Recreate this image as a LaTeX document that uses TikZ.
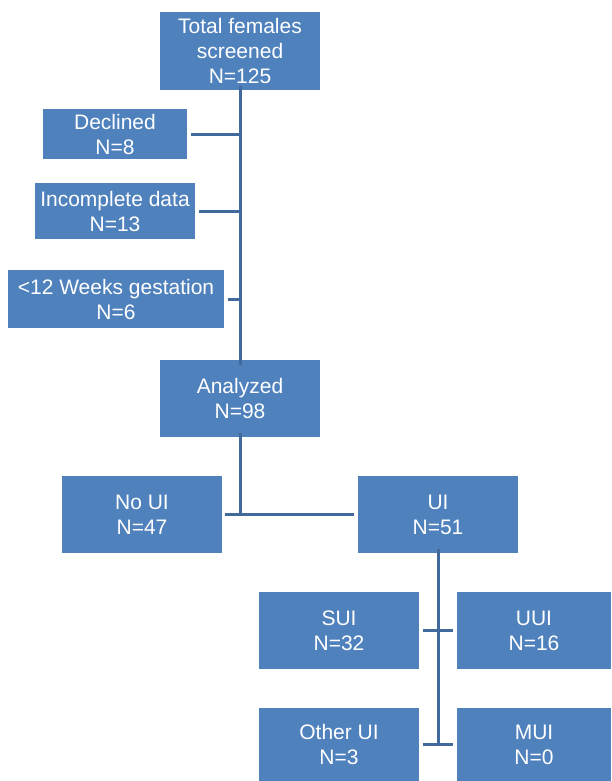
\documentclass[tikz,border=0pt]{standalone}
\usepackage{fontspec}
\setmainfont{Liberation Sans}
\definecolor{boxblue}{HTML}{4F81BD}
\definecolor{lineblue}{HTML}{41699C}
\begin{document}
\begin{tikzpicture}[x=1pt,y=-1pt,
  box/.style={rectangle, fill=boxblue, draw=none, text=white, align=center,
    inner sep=0pt, font=\fontsize{21}{25}\selectfont},
  conn/.style={draw=lineblue, line width=3pt}]
\useasboundingbox (0,0) rectangle (611,781);
\node[box, minimum width=160pt, minimum height=78pt] (total) at (240,51) {Total females\\screened\\N=125};
\node[box, minimum width=144pt, minimum height=50pt] (declined) at (115,134) {Declined\\N=8};
\node[box, minimum width=160pt, minimum height=56pt] (incomplete) at (115,211) {Incomplete data\\N=13};
\node[box, minimum width=216pt, minimum height=58pt] (gest) at (116,299) {<12 Weeks gestation\\N=6};
\node[box, minimum width=160pt, minimum height=77pt] (analyzed) at (240,398.5) {Analyzed\\N=98};
\node[box, minimum width=160pt, minimum height=77pt] (noui) at (142,514.5) {No UI\\N=47};
\node[box, minimum width=160pt, minimum height=77pt] (ui) at (438,514.5) {UI\\N=51};
\node[box, minimum width=160pt, minimum height=77pt] (sui) at (339,630.5) {SUI\\N=32};
\node[box, minimum width=154pt, minimum height=77pt] (uui) at (534,630.5) {UUI\\N=16};
\node[box, minimum width=160pt, minimum height=73pt] (other) at (339,744.5) {Other UI\\N=3};
\node[box, minimum width=154pt, minimum height=73pt] (mui) at (534,744.5) {MUI\\N=0};
% main trunk
\coordinate (trunkend) at ([yshift=-5pt]analyzed.north);
\draw[conn] ([yshift=4pt]total.south) -- (trunkend);
\draw[conn] ([xshift=4pt]declined.east) -- (declined.east -| total.south);
\draw[conn] ([xshift=4pt]incomplete.east) -- (incomplete.east -| total.south);
\draw[conn] ([xshift=4pt]gest.east) -- (gest.east -| total.south);
% analyzed split
\coordinate (split) at (noui.east -| analyzed.south);
\draw[conn] ([yshift=4pt]analyzed.south) -- (split);
\draw[conn] ([xshift=3pt]noui.east) -- ([xshift=-4pt]ui.west);
% UI split
\coordinate (uiend) at (other.east -| ui.south);
\draw[conn] ([yshift=4pt]ui.south) -- (uiend);
\draw[conn] ([xshift=4pt]sui.east) -- ([xshift=-4pt]uui.west);
\draw[conn] ([xshift=4pt]other.east) -- ([xshift=-4pt]mui.west);
\end{tikzpicture}
\end{document}
